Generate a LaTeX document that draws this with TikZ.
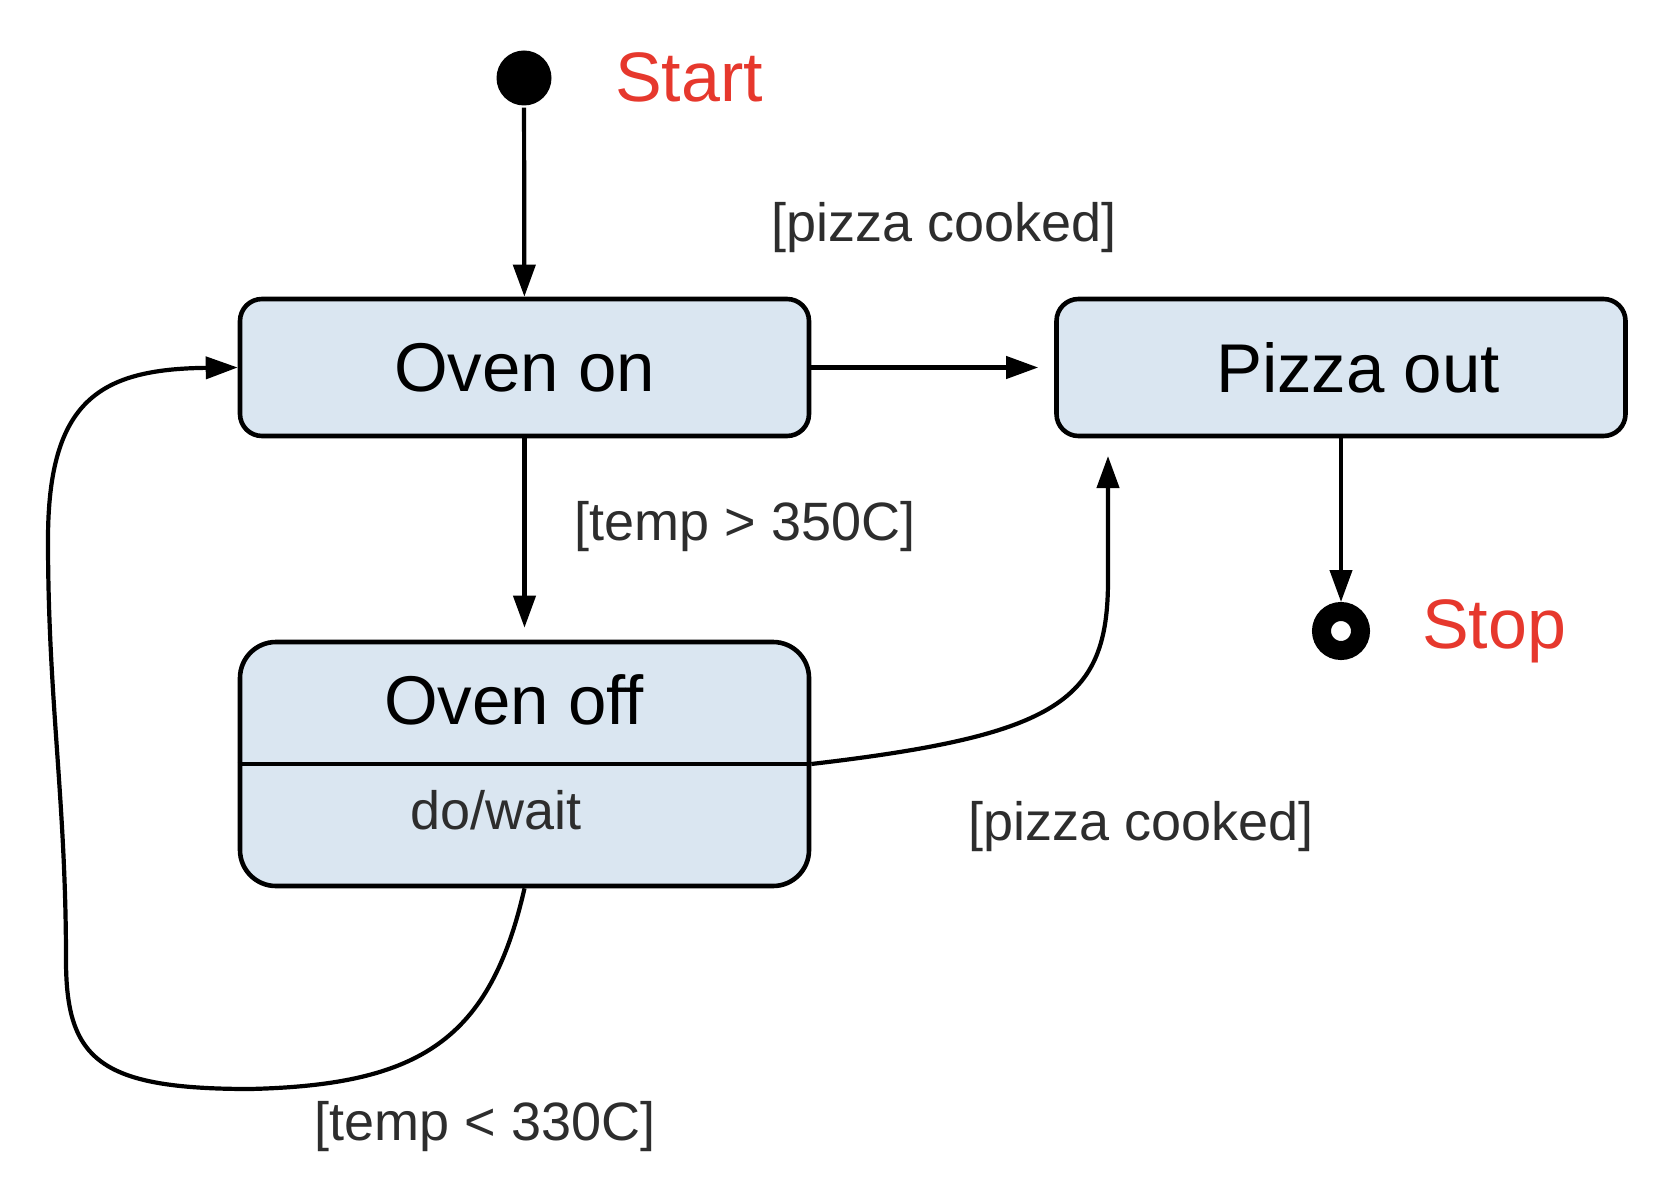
\documentclass[tikz,border=0pt]{standalone}
\usepackage{fontspec}
\setmainfont{Liberation Sans}
\usetikzlibrary{arrows.meta}
\definecolor{statefill}{RGB}{218,230,241}
\definecolor{termred}{RGB}{230,56,45}
\definecolor{guardgray}{RGB}{45,45,45}

\begin{document}
\begin{tikzpicture}[x=0.5pt, y=-0.5pt, line width=2.1pt,
  >={Triangle[length=16pt,width=11pt]},
  state/.style={draw, line width=2.3pt, fill=statefill, rounded corners=11pt,
    minimum width=284.5pt, minimum height=68.5pt, inner sep=0pt,
    font=\fontsize{34.5}{40}\selectfont},
  statetitle/.style={inner sep=0pt, font=\fontsize{34.5}{40}\selectfont},
  guard/.style={text=guardgray, inner sep=0pt, font=\fontsize{27}{32}\selectfont},
  term/.style={text=termred, anchor=west, inner sep=0pt, font=\fontsize{35}{40}\selectfont}]
\useasboundingbox (0,0) rectangle (1664,1182);
\node[circle, fill=black, minimum size=27.5pt, inner sep=0pt] (init) at (524,78) {};
\node[term] (starttxt) at (613,77) {Start};
\node[state] (on) at (524.5,367.5) {Oven on};
\node[state] (out) at (1341,367.5) {\hspace*{17pt}Pizza out};
\node[state, minimum height=122pt, rounded corners=18pt] (off) at (524.5,764) {};
\draw[line width=2.3pt] (off.west) -- (off.east);
\node[statetitle] (offname) at (514,700) {Oven off};
\node[guard] (offdo) at (496,810) {do/wait};
\node[circle, draw, fill=white, line width=9.5pt, minimum size=19.5pt, inner sep=0pt,
  outer sep=4.75pt] (stop) at (1341,631) {};
\node[term] (stoptxt) at (1420,631) {Stop};
\coordinate (outin) at (1108,456);
\foreach \x/\y/\t [count=\i] in {944/228/{[pizza cooked]}, 745/527/{[temp > 350C]},
  1141/827/{[pizza cooked]}, 485/1127/{[temp < 330C]}}
  \node[guard] (g\i) at (\x,\y) {\t};
\draw[->] (init) -- (on);
\draw[->, shorten >=8pt] (on) -- (out);
\draw[->, shorten >=6pt] (on) -- (off);
\draw[->] (out) -- (stop);
\draw[->] (off.east) .. controls (1060,735) and (1108,700) .. (1108,580) -- (outin);
\draw[->] (off.south) .. controls (490,1040) and (420,1085) .. (250,1089)
  .. controls (100,1089) and (66,1060) .. (66,960)
  .. controls (66,800) and (48,700) .. (48,540)
  .. controls (48,400) and (100,369) .. (on.west);
\end{tikzpicture}
\end{document}
